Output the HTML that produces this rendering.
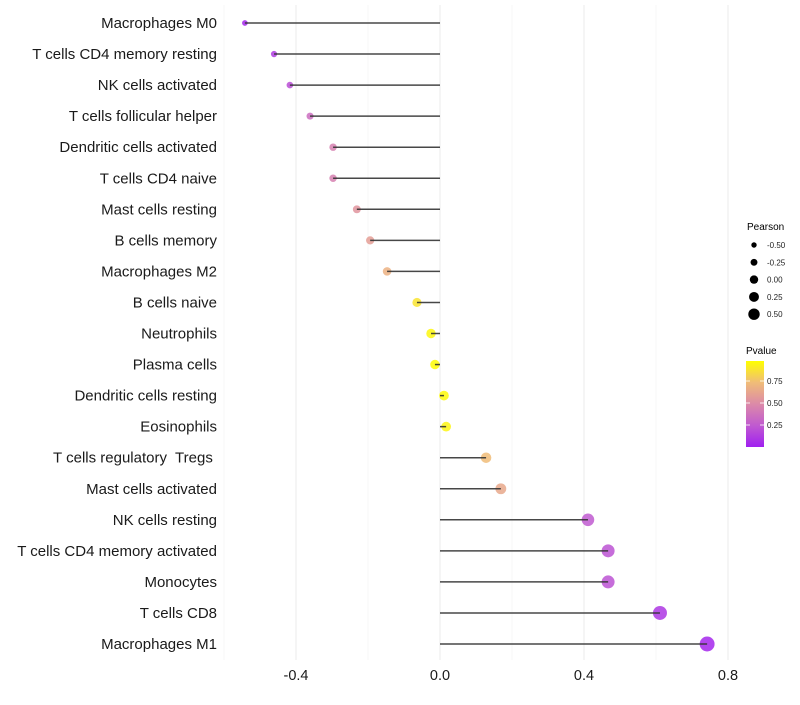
<!DOCTYPE html>
<html><head><meta charset="utf-8"><style>
body{margin:0;background:#fff;font-family:"Liberation Sans",sans-serif}
text{white-space:pre}
</style></head><body>
<svg id="chart" width="800" height="700">
<defs><linearGradient id="pg" x1="0" y1="1" x2="0" y2="0">
<stop offset="0" stop-color="#a020f0"/><stop offset="0.25" stop-color="#c05ad0"/><stop offset="0.5" stop-color="#dc8aa8"/><stop offset="0.75" stop-color="#f0bc78"/><stop offset="1" stop-color="#ffff00"/></linearGradient></defs>
<g id="grid"></g><g id="marks"></g><g id="labels"></g>
<g>
<text x="747" y="230" font-size="10">Pearson</text>
<g id="sizeleg"></g></g>
<g>
<text x="746" y="354" font-size="10">Pvalue</text>
<rect x="746" y="361" width="18" height="86" fill="url(#pg)"/>
<g id="colleg"></g></g>
</svg>
<script>
const categories=["Macrophages M0","T cells CD4 memory resting","NK cells activated","T cells follicular helper","Dendritic cells activated","T cells CD4 naive","Mast cells resting","B cells memory","Macrophages M2","B cells naive","Neutrophils","Plasma cells","Dendritic cells resting","Eosinophils","T cells regulatory  Tregs ","Mast cells activated","NK cells resting","T cells CD4 memory activated","Monocytes","T cells CD8","Macrophages M1"];
const pearson=[-0.542,-0.461,-0.417,-0.361,-0.297,-0.297,-0.231,-0.194,-0.147,-0.064,-0.025,-0.014,0.011,0.017,0.128,0.169,0.411,0.467,0.467,0.611,0.742];
const pvalue=[0.03,0.12,0.2,0.35,0.45,0.45,0.55,0.6,0.7,0.9,0.97,0.99,0.98,0.96,0.75,0.65,0.25,0.22,0.22,0.1,0.03];
const xTicks=[-0.4,0,0.4,0.8];
const xTickLabels=["-0.4","0.0","0.4","0.8"];
const sizeLegend=[-0.5,-0.25,0,0.25,0.5];
const sizeLegendLabels=["-0.50","-0.25","0.00","0.25","0.50"];
const colTicks=[0.25,0.5,0.75];
const colTickLabels=["0.25","0.50","0.75"];
const NS="http://www.w3.org/2000/svg";
const X=v=>440+v*360;
const Y=i=>23+i*31.05;
const R=p=>4.8+3.6*p;
const RL=p=>4.2+3*p;
const stops=[[0,[160,32,240]],[0.25,[192,90,208]],[0.5,[220,138,168]],[0.75,[240,188,120]],[1,[255,255,0]]];
function col(p){for(let k=1;k<stops.length;k++){if(p<=stops[k][0]){const a=stops[k-1],b=stops[k],t=(p-a[0])/(b[0]-a[0]);return "rgb("+a[1].map((c,j)=>Math.round(c+(b[1][j]-c)*t)).join(",")+")";}}return "rgb(255,255,0)";}
function mk(t,a,p){const e=document.createElementNS(NS,t);for(const k in a)e.setAttribute(k,a[k]);p.appendChild(e);return e;}
const grid=document.getElementById("grid"),marks=document.getElementById("marks"),labels=document.getElementById("labels");
[-0.6,-0.2,0.2,0.6].forEach(v=>{const l=mk("line",{x1:X(v),x2:X(v),y1:5,y2:660,stroke:"#f2f2f2","stroke-width":0.6},grid);

});
xTicks.forEach((v,i)=>{const l=mk("line",{x1:X(v),x2:X(v),y1:5,y2:660,stroke:"#ebebeb","stroke-width":1},grid);


const t=mk("text",{x:X(v),y:680,"font-size":14.5,"text-anchor":"middle",fill:"#1a1a1a"},labels);t.textContent=xTickLabels[i];

});
categories.forEach((c,i)=>{const y=Y(i);
const t=mk("text",{x:217,y:y+5,"font-size":15,"text-anchor":"end",fill:"#1a1a1a"},labels);t.textContent=c;


const d=mk("circle",{cx:X(pearson[i]),cy:y,r:R(pearson[i]),fill:col(pvalue[i]),"fill-opacity":0.85},marks);


const s=mk("line",{x1:X(0),x2:X(pearson[i]),y1:y,y2:y,stroke:"#333","stroke-opacity":0.9,"stroke-width":1.5},marks);

});
const sl=document.getElementById("sizeleg");
sizeLegend.forEach((v,i)=>{const y=245+i*17.3;
const c=mk("circle",{cx:754,cy:y,r:RL(v),fill:"#000"},sl);


const t=mk("text",{x:767,y:y+3,"font-size":8,fill:"#222"},sl);t.textContent=sizeLegendLabels[i];

});
const cl=document.getElementById("colleg");
colTicks.forEach((v,i)=>{const y=447-v*88;
mk("line",{x1:746,x2:750,y1:y,y2:y,stroke:"#fff","stroke-width":0.8},cl);
mk("line",{x1:760,x2:764,y1:y,y2:y,stroke:"#fff","stroke-width":0.8},cl);
const t=mk("text",{x:767,y:y+3,"font-size":8,fill:"#222"},cl);t.textContent=colTickLabels[i];

});
</script>
</body></html>
